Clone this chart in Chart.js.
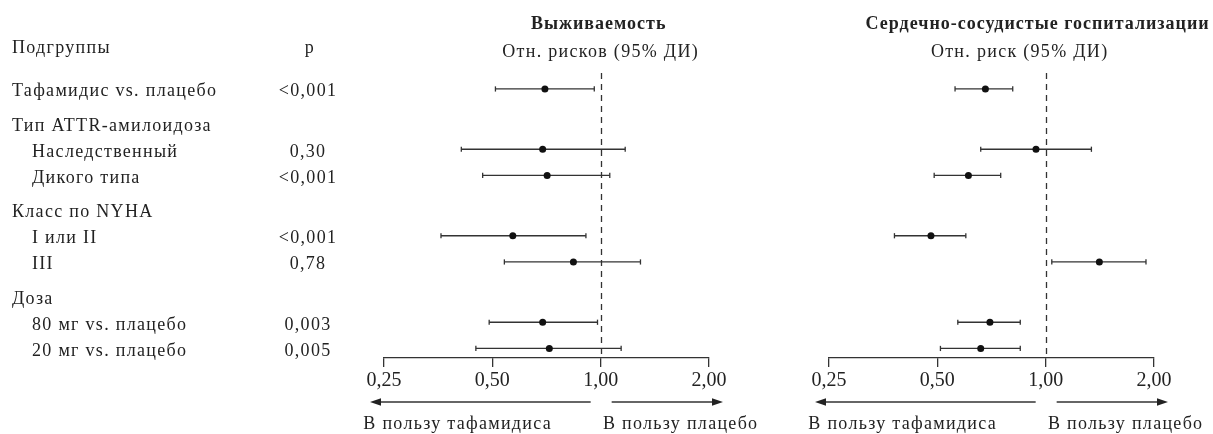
<!DOCTYPE html>
<html><head><meta charset="utf-8">
<script src="https://cdn.jsdelivr.net/npm/chart.js@4.4.1/dist/chart.umd.min.js"></script>
<style>
html,body{margin:0;padding:0;background:#fff;}
#wrap{position:relative;width:1213px;height:434px;background:#fff;overflow:hidden;}
canvas{position:absolute;top:0;}
</style></head><body>
<div id="wrap">
<canvas id="c1" width="790" height="434" style="left:0;width:790px;height:434px"></canvas>
<canvas id="c2" width="423" height="434" style="left:790px;width:423px;height:434px"></canvas>
</div>
<script>
// ---------- data ----------
const rowLabels = ['Тафамидис vs. плацебо','Тип ATTR-амилоидоза','Наследственный','Дикого типа','Класс по NYHA','I или II','III','Доза','80 мг vs. плацебо','20 мг vs. плацебо'];
const rowIndent = [0,0,1,1,0,1,1,0,1,1];
const rowGroup  = [0,1,1,1,2,2,2,3,3,3];
const pValues   = ['<0,001','','0,30','<0,001','','<0,001','0,78','','0,003','0,005'];

const survivalHR = [0.70,null,0.69,0.71,null,0.57,0.84,null,0.69,0.72];
const survivalLo = [0.51,null,0.41,0.47,null,0.36,0.54,null,0.49,0.45];
const survivalHi = [0.96,null,1.17,1.06,null,0.91,1.29,null,0.98,1.14];

const hospRR = [0.68,null,0.94,0.61,null,0.48,1.41,null,0.70,0.66];
const hospLo = [0.56,null,0.66,0.49,null,0.38,1.04,null,0.57,0.51];
const hospHi = [0.81,null,1.34,0.75,null,0.60,1.90,null,0.85,0.85];

const tickValues = [0.25,0.5,1,2];
const tickLabels = ['0,25','0,50','1,00','2,00'];
const tableHeaders = ['Подгруппы','p'];
const panelTitles = ['Выживаемость','Сердечно-сосудистые госпитализации'];
const panelSubtitles = ['Отн. рисков (95% ДИ)','Отн. риск (95% ДИ)'];
const favorLabels = ['В пользу тафамидиса','В пользу плацебо'];

// ---------- style / layout ----------
const SERIF = '"Liberation Serif","Times New Roman",serif';
const FONT_PX = 18;
const SPACING = '1.3px';
const BOLD_SPACING = '1px';
const INK = '#222';
const LINE = '#333';
const GAP = 0.3;          // extra spacing (in row units) before each group
const ROW_PX = 26.5;
const ROW0_PX = 86;
const AXIS_PX = 358;
const yOf = i => i + rowGroup[i] * GAP;

function drawArrow(ctx, xFrom, xTo, y) {
  const dir = xTo > xFrom ? 1 : -1;
  ctx.beginPath();
  ctx.moveTo(xFrom, y); ctx.lineTo(xTo - dir * 9, y); ctx.stroke();
  ctx.beginPath();
  ctx.moveTo(xTo, y);
  ctx.lineTo(xTo - dir * 11, y - 3.8);
  ctx.lineTo(xTo - dir * 11, y + 3.8);
  ctx.closePath(); ctx.fill();
}

function decor(panel) {
  return {
    id: 'decor' + panel.idx,
    beforeDatasetsDraw(chart) {
      const ctx = chart.ctx, xs = chart.scales.x, ys = chart.scales.y;
      const x1 = Math.round(xs.getPixelForValue(1)) + 0.5;
      ctx.save();
      ctx.strokeStyle = LINE; ctx.lineWidth = 1.3; ctx.setLineDash([6, 5]);
      ctx.beginPath();
      ctx.moveTo(x1, ys.getPixelForValue(0) - 16);
      ctx.lineTo(x1, chart.chartArea.bottom);
      ctx.stroke();
      ctx.restore();
    },
    afterDraw(chart) {
      const ctx = chart.ctx, xs = chart.scales.x, ys = chart.scales.y;
      const x1 = xs.getPixelForValue(1), x025 = xs.getPixelForValue(0.25), x2 = xs.getPixelForValue(2);
      ctx.save();
      ctx.fillStyle = INK; ctx.strokeStyle = LINE; ctx.lineWidth = 1.4;
      // titles
      ctx.textAlign = 'center'; ctx.textBaseline = 'alphabetic';
      ctx.font = 'bold ' + FONT_PX + 'px ' + SERIF;
      ctx.letterSpacing = BOLD_SPACING;
      ctx.fillText(panel.title, x1 + panel.titleDx, 29);
      ctx.font = FONT_PX + 'px ' + SERIF;
      ctx.letterSpacing = SPACING;
      ctx.fillText(panel.subtitle, x1 + panel.subDx, 57);
      // arrows
      drawArrow(ctx, x1 - 10, x025 - 14, 402);
      drawArrow(ctx, x1 + 11, x2 + 14, 402);
      ctx.fillText(favorLabels[0], x1 - 143, 429);
      ctx.fillText(favorLabels[1], x1 + 80, 429);
      // table (left panel only)
      if (panel.table) {
        ctx.textAlign = 'left';
        ctx.fillText(tableHeaders[0], 12, 53);
        ctx.textAlign = 'center';
        ctx.fillText(tableHeaders[1], 310, 53);
        rowLabels.forEach((lab, i) => {
          const py = ys.getPixelForValue(yOf(i)) + 7.5;
          ctx.textAlign = 'left';
          ctx.fillText(lab, rowIndent[i] ? 32 : 12, py);
          if (pValues[i]) { ctx.textAlign = 'center'; ctx.fillText(pValues[i], 308, py); }
        });
      }
      ctx.restore();
    }
  };
}

function makeChart(canvasId, panel, est, lo, hi) {
  const datasets = [];
  const pts = [];
  est.forEach((v, i) => {
    if (v == null) return;
    datasets.push({
      data: [{x: lo[i], y: yOf(i)}, {x: hi[i], y: yOf(i)}],
      showLine: true, borderColor: LINE, borderWidth: 1.3,
      pointStyle: 'line', pointRotation: 90, pointRadius: 2.6,
      pointBorderColor: LINE, pointBorderWidth: 1.3, pointHoverRadius: 2.6,
      order: 2
    });
    pts.push({x: v, y: yOf(i)});
  });
  datasets.push({
    data: pts, pointStyle: 'circle', pointRadius: 3.5, pointHoverRadius: 3.5,
    backgroundColor: '#111', borderColor: '#111', borderWidth: 0, order: 0
  });
  return new Chart(document.getElementById(canvasId), {
    type: 'scatter',
    data: { datasets },
    options: {
      responsive: false, animation: false, devicePixelRatio: 1,
      layout: { padding: { left: panel.padLeft, right: panel.padRight, top: 0, bottom: 0 } },
      plugins: { legend: { display: false }, tooltip: { enabled: false } },
      events: [],
      scales: {
        x: {
          type: 'logarithmic', min: 0.25, max: 2,
          afterBuildTicks: s => { s.ticks = tickValues.map(v => ({ value: v })); },
          afterFit: s => { s.height = 434 - AXIS_PX; },
          ticks: {
            callback: (v) => { const k = tickValues.indexOf(v); return k >= 0 ? tickLabels[k] : ''; },
            font: { family: SERIF, size: 20 }, color: INK, padding: 2,
            maxRotation: 0, autoSkip: false
          },
          grid: { drawOnChartArea: false, drawTicks: true, tickLength: 9, color: LINE, lineWidth: 1.3 },
          border: { display: true, color: LINE, width: 1.3 }
        },
        y: {
          type: 'linear', display: false, reverse: true,
          min: -ROW0_PX / ROW_PX, max: (AXIS_PX - ROW0_PX) / ROW_PX
        }
      }
    },
    plugins: [decor(panel)]
  });
}

makeChart('c1', { idx: 0, table: true, padLeft: 384, padRight: 790 - 709,
  title: panelTitles[0], subtitle: panelSubtitles[0], titleDx: -2, subDx: 0 },
  survivalHR, survivalLo, survivalHi);
makeChart('c2', { idx: 1, table: false, padLeft: 39, padRight: 423 - 364,
  title: panelTitles[1], subtitle: panelSubtitles[1], titleDx: -8, subDx: -26 },
  hospRR, hospLo, hospHi);
</script>
</body></html>
